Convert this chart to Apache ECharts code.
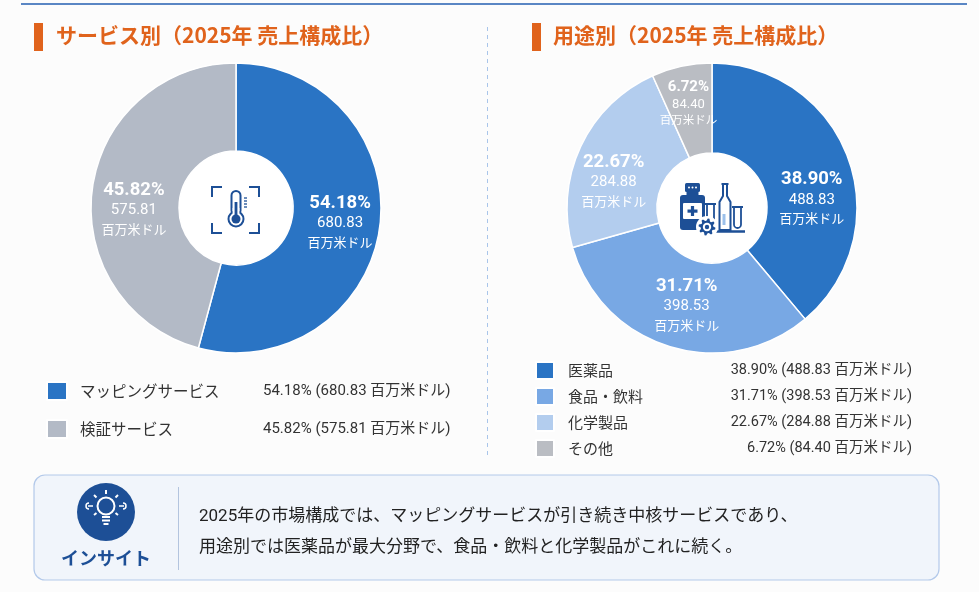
<!DOCTYPE html>
<html lang="ja">
<head>
<meta charset="utf-8">
<script src="https://cdn.jsdelivr.net/npm/echarts@6/dist/echarts.min.js"></script>
<style>
html, body { margin: 0; padding: 0; background: #fcfcfc; }
#chart { width: 979px; height: 592px; }
</style>
</head>
<body>
<div id="chart"></div>
<script>
// data
const serviceNames = ['マッピングサービス', '検証サービス'];
const serviceValues = [680.83, 575.81];
const servicePct = [54.18, 45.82];
const useNames = ['医薬品', '食品・飲料', '化学製品', 'その他'];
const useValues = [488.83, 398.53, 284.88, 84.40];
const usePct = [38.90, 31.71, 22.67, 6.72];
const unit = '百万米ドル';
const leftTitle = 'サービス別（2025年 売上構成比）';
const rightTitle = '用途別（2025年 売上構成比）';
const insightLines = [
  '2025年の市場構成では、マッピングサービスが引き続き中核サービスであり、',
  '用途別では医薬品が最大分野で、食品・飲料と化学製品がこれに続く。'
];

// label nudges (style only)
const serviceLabelOffsets = [[1, 0], [1, 14]];
const useLabelOffsets = [[3, 25], [5, -2], [-5, 16], [-2, -5]];

const FONT = 'Roboto, "Noto Sans CJK JP", sans-serif';
const JP = '"Noto Sans CJK JP", sans-serif';
const NAVY = '#1d4f96';
const ORANGE = '#e0631c';
const serviceColors = ['#2a74c4', '#b3bac6'];
const useColors = ['#2a74c4', '#78a8e4', '#b3cdee', '#babdc3'];

const fmt = v => v.toFixed(2);

function sliceLabel(pct, vals) {
  return p => `{p|${fmt(pct[p.dataIndex])}%}\n{v|${fmt(vals[p.dataIndex])}}\n{u|${unit}}`;
}

const labelRich = {
  p: { fontSize: 18.5, fontWeight: 'bold', color: '#fff', lineHeight: 22, fontFamily: FONT },
  v: { fontSize: 15, color: '#fff', lineHeight: 19, fontFamily: FONT },
  u: { fontSize: 13, color: '#fff', lineHeight: 18, fontFamily: JP }
};

function gearPoints(cx, cy, rOut, rIn, teeth) {
  const pts = [];
  const n = teeth * 4;
  for (let i = 0; i < n; i++) {
    const a = (i + 0.5) / n * Math.PI * 2;
    const r = (i % 4 < 2) ? rOut : rIn;
    pts.push([cx + r * Math.cos(a), cy + r * Math.sin(a)]);
  }
  return pts;
}

const navyLine = { stroke: NAVY, lineWidth: 2, fill: null };

// center icon: thermometer in brackets
const thermoIcon = [
  { type: 'circle', shape: { cx: 236, cy: 208, r: 58 }, style: { fill: '#fff' } },
  { type: 'polyline', shape: { points: [[212, 197], [212, 187], [222, 187]] }, style: navyLine },
  { type: 'polyline', shape: { points: [[249, 187], [259, 187], [259, 197]] }, style: navyLine },
  { type: 'polyline', shape: { points: [[212, 223], [212, 233], [222, 233]] }, style: navyLine },
  { type: 'polyline', shape: { points: [[249, 233], [259, 233], [259, 223]] }, style: navyLine },
  { type: 'rect', shape: { x: 231.5, y: 191, width: 9, height: 24, r: 4.5 }, style: { stroke: NAVY, lineWidth: 2, fill: '#fff' } },
  { type: 'circle', shape: { cx: 236, cy: 219, r: 7.5 }, style: { stroke: NAVY, lineWidth: 2, fill: '#fff' } },
  { type: 'rect', shape: { x: 232.6, y: 208, width: 6.8, height: 6 }, style: { fill: '#fff' } },
  { type: 'circle', shape: { cx: 236, cy: 219, r: 4.5 }, style: { fill: NAVY } },
  { type: 'rect', shape: { x: 234.6, y: 202, width: 2.8, height: 16 }, style: { fill: NAVY } },
  { type: 'line', shape: { x1: 244, y1: 198, x2: 247, y2: 198 }, style: { stroke: NAVY, lineWidth: 1.3 } },
  { type: 'line', shape: { x1: 244, y1: 201, x2: 247, y2: 201 }, style: { stroke: NAVY, lineWidth: 1.3 } },
  { type: 'line', shape: { x1: 244, y1: 204, x2: 247, y2: 204 }, style: { stroke: NAVY, lineWidth: 1.3 } },
  { type: 'line', shape: { x1: 244, y1: 207, x2: 247, y2: 207 }, style: { stroke: NAVY, lineWidth: 1.3 } }
];

// center icon: medicine bottle, flasks, gear
const labIcon = [
  { type: 'circle', shape: { cx: 712, cy: 208, r: 56 }, style: { fill: '#fff' } },
  { type: 'rect', shape: { x: 685, y: 183, width: 15, height: 9, r: 1.5 }, style: { fill: NAVY } },
  { type: 'circle', shape: { cx: 689, cy: 187.5, r: 1 }, style: { fill: '#fff' } },
  { type: 'circle', shape: { cx: 692.5, cy: 187.5, r: 1 }, style: { fill: '#fff' } },
  { type: 'circle', shape: { cx: 696, cy: 187.5, r: 1 }, style: { fill: '#fff' } },
  { type: 'rect', shape: { x: 686.5, y: 192, width: 12, height: 4 }, style: { fill: NAVY } },
  { type: 'rect', shape: { x: 680, y: 195, width: 25, height: 35, r: 3 }, style: { fill: NAVY } },
  { type: 'rect', shape: { x: 683, y: 203, width: 19, height: 16, r: 1 }, style: { fill: '#fff' } },
  { type: 'rect', shape: { x: 687.5, y: 209.5, width: 10, height: 3.2 }, style: { fill: NAVY } },
  { type: 'rect', shape: { x: 690.9, y: 206, width: 3.2, height: 10 }, style: { fill: NAVY } },
  { type: 'rect', shape: { x: 707, y: 204, width: 7, height: 22, r: [0, 0, 3.5, 3.5] }, style: { stroke: NAVY, lineWidth: 1.8, fill: '#fff' } },
  { type: 'line', shape: { x1: 705, y1: 204, x2: 716, y2: 204 }, style: { stroke: NAVY, lineWidth: 2 } },
  { type: 'polygon', shape: { points: [[723, 184], [727, 184], [727, 196], [730.5, 202], [730.5, 230], [719.5, 230], [719.5, 202], [723, 196]] }, style: { stroke: NAVY, lineWidth: 2, fill: '#fff' } },
  { type: 'line', shape: { x1: 721.5, y1: 184, x2: 728.5, y2: 184 }, style: { stroke: NAVY, lineWidth: 2 } },
  { type: 'rect', shape: { x: 722.5, y: 214, width: 3, height: 11 }, style: { fill: '#9cc0ea' } },
  { type: 'rect', shape: { x: 734, y: 207, width: 7, height: 21, r: [0, 0, 3.5, 3.5] }, style: { stroke: NAVY, lineWidth: 1.8, fill: '#fff' } },
  { type: 'line', shape: { x1: 732, y1: 207, x2: 743, y2: 207 }, style: { stroke: NAVY, lineWidth: 2 } },
  { type: 'line', shape: { x1: 705, y1: 231.5, x2: 745, y2: 231.5 }, style: { stroke: NAVY, lineWidth: 2.5 } },
  { type: 'circle', shape: { cx: 707, cy: 227, r: 11 }, style: { fill: '#fff' } },
  { type: 'polygon', shape: { points: gearPoints(707, 227, 8.5, 6.3, 8) }, style: { fill: NAVY } },
  { type: 'circle', shape: { cx: 707, cy: 227, r: 4.2 }, style: { fill: '#fff' } },
  { type: 'circle', shape: { cx: 707, cy: 227, r: 2.2 }, style: { fill: NAVY } }
];

// insight icon: light bulb
const bulbIcon = [
  { type: 'circle', shape: { cx: 106, cy: 512, r: 29 }, style: { fill: NAVY } },
  { type: 'circle', shape: { cx: 106, cy: 506, r: 8.5 }, style: { stroke: '#fff', lineWidth: 2, fill: null } },
  { type: 'line', shape: { x1: 102, y1: 517, x2: 110, y2: 517 }, style: { stroke: '#fff', lineWidth: 2 } },
  { type: 'line', shape: { x1: 102, y1: 520.5, x2: 110, y2: 520.5 }, style: { stroke: '#fff', lineWidth: 2 } },
  { type: 'line', shape: { x1: 103.5, y1: 524, x2: 108.5, y2: 524 }, style: { stroke: '#fff', lineWidth: 2 } },
  { type: 'line', shape: { x1: 106, y1: 490, x2: 106, y2: 494 }, style: { stroke: '#fff', lineWidth: 2 } },
  { type: 'line', shape: { x1: 94, y1: 495, x2: 96.5, y2: 497.5 }, style: { stroke: '#fff', lineWidth: 2 } },
  { type: 'line', shape: { x1: 118, y1: 495, x2: 115.5, y2: 497.5 }, style: { stroke: '#fff', lineWidth: 2 } },
  { type: 'line', shape: { x1: 94, y1: 515, x2: 96.5, y2: 513 }, style: { stroke: '#fff', lineWidth: 2 } },
  { type: 'line', shape: { x1: 118, y1: 515, x2: 115.5, y2: 513 }, style: { stroke: '#fff', lineWidth: 2 } },
  { type: 'arc', shape: { cx: 89, cy: 506, r: 3, startAngle: Math.PI * 0.5, endAngle: Math.PI * 1.5 }, style: { stroke: '#fff', lineWidth: 1.5, fill: null } },
  { type: 'arc', shape: { cx: 123, cy: 506, r: 3, startAngle: -Math.PI * 0.5, endAngle: Math.PI * 0.5 }, style: { stroke: '#fff', lineWidth: 1.5, fill: null } },
  { type: 'line', shape: { x1: 88, y1: 506, x2: 93, y2: 506 }, style: { stroke: '#fff', lineWidth: 1.5 } },
  { type: 'line', shape: { x1: 119, y1: 506, x2: 124, y2: 506 }, style: { stroke: '#fff', lineWidth: 1.5 } }
];

const chart = echarts.init(document.getElementById('chart'), null, { renderer: 'canvas' });

chart.setOption({
  backgroundColor: '#fcfcfc',
  animation: false,
  title: [
    { text: leftTitle, left: 56, top: 25, padding: 0, textStyle: { color: ORANGE, fontSize: 21, fontWeight: 'bold', fontFamily: JP } },
    { text: rightTitle, left: 553, top: 25, padding: 0, textStyle: { color: ORANGE, fontSize: 21, fontWeight: 'bold', fontFamily: JP } }
  ],
  legend: [
    {
      data: serviceNames,
      orient: 'vertical',
      left: 46, top: 381, padding: 0,
      icon: 'rect', itemWidth: 20, itemHeight: 18, itemGap: 18,
      selectedMode: false,
      formatter: name => {
        const i = serviceNames.indexOf(name);
        return `{n|${name}}{v|${fmt(servicePct[i])}% (${fmt(serviceValues[i])} ${unit})}`;
      },
      textStyle: {
        color: '#333',
        rich: {
          n: { width: 183, fontSize: 15.5, lineHeight: 18, padding: [0, 0, 0, 8], fontFamily: JP, color: '#333' },
          v: { fontSize: 15, lineHeight: 18, fontFamily: FONT, color: '#333' }
        }
      }
    },
    {
      data: useNames,
      orient: 'vertical',
      left: 535, top: 361, padding: 0,
      icon: 'rect', itemWidth: 18, itemHeight: 17, itemGap: 7,
      selectedMode: false,
      formatter: name => {
        const i = useNames.indexOf(name);
        return `{n|${name}}{v|${fmt(usePct[i])}% (${fmt(useValues[i])} ${unit})}`;
      },
      textStyle: {
        color: '#333',
        rich: {
          n: { width: 164, fontSize: 15, lineHeight: 17, padding: [0, 0, 0, 9], fontFamily: JP, color: '#333' },
          v: { width: 180, align: 'right', fontSize: 14.5, lineHeight: 17, fontFamily: FONT, color: '#333' }
        }
      }
    }
  ],
  series: [
    {
      type: 'pie',
      center: [236, 208],
      radius: [57, 145],
      startAngle: 90,
      clockwise: true,
      avoidLabelOverlap: false,
      itemStyle: { borderColor: '#fff', borderWidth: 1.5 },
      label: { show: true, position: 'inside', formatter: sliceLabel(servicePct, serviceValues), rich: labelRich },
      labelLine: { show: false },
      emphasis: { disabled: true },
      data: serviceNames.map((n, i) => ({
        name: n, value: serviceValues[i],
        itemStyle: { color: serviceColors[i] },
        label: { offset: serviceLabelOffsets[i] }
      }))
    },
    {
      type: 'pie',
      center: [712, 208],
      radius: [55, 145],
      startAngle: 90,
      clockwise: true,
      avoidLabelOverlap: false,
      itemStyle: { borderColor: '#fff', borderWidth: 1.5 },
      label: { show: true, position: 'inside', formatter: sliceLabel(usePct, useValues), rich: labelRich },
      labelLine: { show: false },
      emphasis: { disabled: true },
      data: useNames.map((n, i) => {
        const item = {
          name: n, value: useValues[i],
          itemStyle: { color: useColors[i] },
          label: { offset: useLabelOffsets[i] }
        };
        if (i === 3) {
          item.label.rich = { p: { fontSize: 15, lineHeight: 19 }, v: { fontSize: 13, lineHeight: 16 }, u: { fontSize: 11.5, lineHeight: 15 } };
        }
        return item;
      })
    }
  ],
  graphic: [
    { type: 'line', shape: { x1: 21, y1: 4, x2: 967, y2: 4 }, style: { stroke: '#5a86c4', lineWidth: 2 } },
    { type: 'rect', shape: { x: 34, y: 23, width: 9, height: 28 }, style: { fill: ORANGE } },
    { type: 'rect', shape: { x: 532, y: 23, width: 9, height: 28 }, style: { fill: ORANGE } },
    { type: 'line', shape: { x1: 487.5, y1: 27, x2: 487.5, y2: 455 }, style: { stroke: '#a9c5ea', lineWidth: 1, lineDash: [4, 4] } },
    ...thermoIcon,
    ...labIcon,
    { type: 'rect', shape: { x: 34, y: 475, width: 905, height: 105, r: 11 }, style: { fill: '#f1f5fb', stroke: '#b3c9ea', lineWidth: 1.2 } },
    ...bulbIcon,
    { type: 'text', x: 106, y: 558, style: { text: 'インサイト', fill: NAVY, font: 'bold 18px "Noto Sans CJK JP", sans-serif', textAlign: 'center', textVerticalAlign: 'middle' } },
    { type: 'line', shape: { x1: 178.5, y1: 487, x2: 178.5, y2: 570 }, style: { stroke: '#b3c4de', lineWidth: 1 } },
    { type: 'text', x: 199, y: 517, style: { text: insightLines[0], fill: '#222', font: '17px Roboto, "Noto Sans CJK JP", sans-serif', textVerticalAlign: 'middle' } },
    { type: 'text', x: 199, y: 548, style: { text: insightLines[1], fill: '#222', font: '17px Roboto, "Noto Sans CJK JP", sans-serif', textVerticalAlign: 'middle' } }
  ]
});
</script>
</body>
</html>
